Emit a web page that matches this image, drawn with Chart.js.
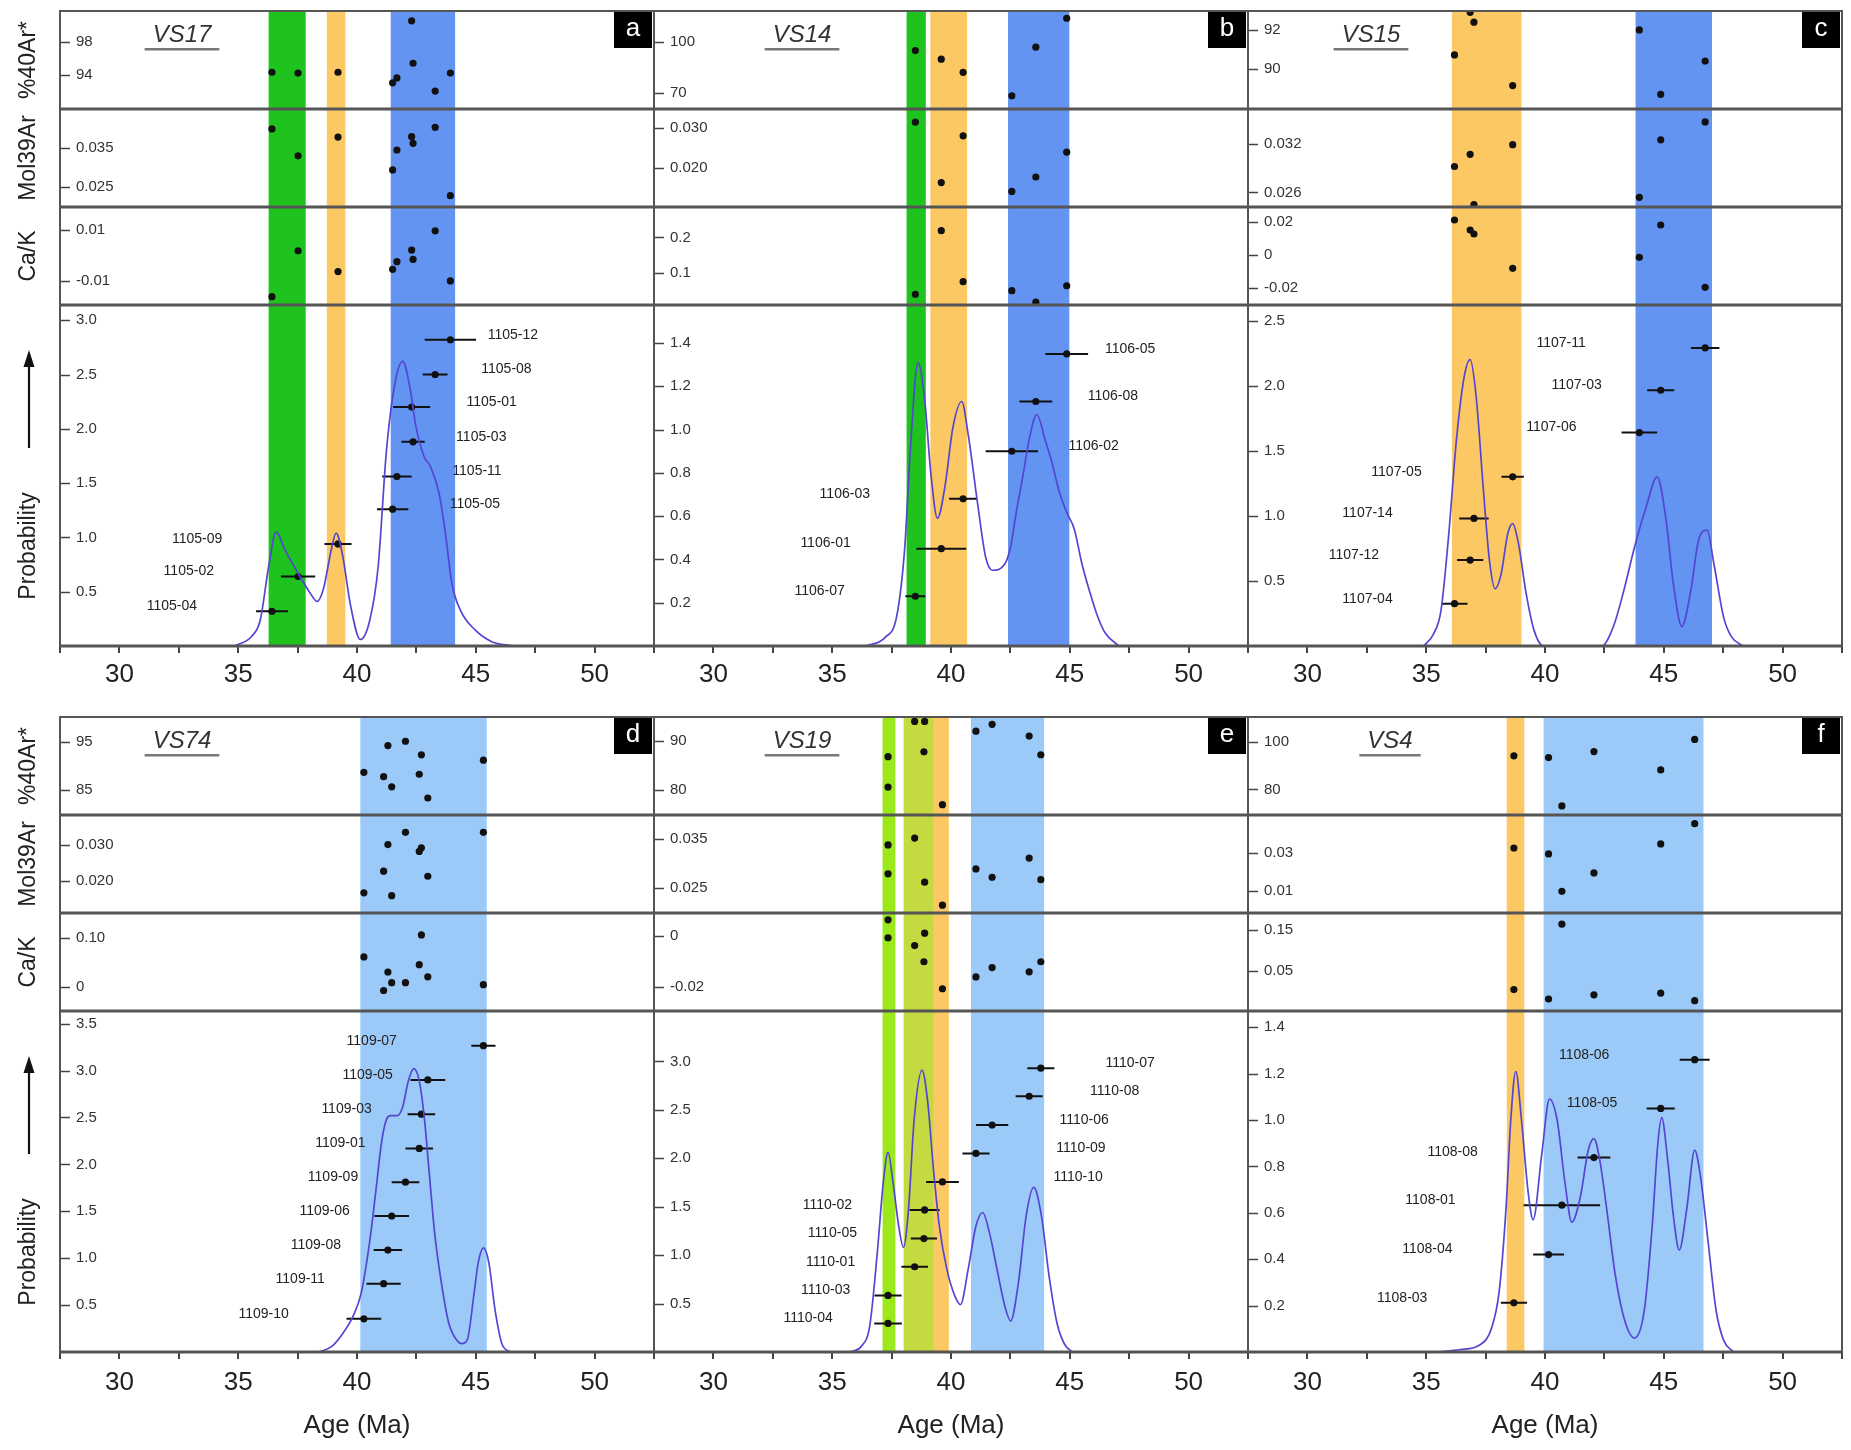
<!DOCTYPE html>
<html>
<head>
<meta charset="utf-8">
<script src="https://cdn.jsdelivr.net/npm/chart.js@4/dist/chart.umd.min.js"></script>
<style>
  html, body { margin: 0; padding: 0; background: #fff; }
  #wrap { position: relative; width: 1851px; height: 1450px; overflow: hidden; }
  #wrap canvas { position: absolute; }
</style>
</head>
<body>
<div id="wrap"></div>
<script>
// shared axis labels
const ageTicks = [30, 35, 40, 45, 50];
const subNames = ['%40Ar*', 'Mol39Ar', 'Ca/K', 'Probability'];

// ---- a : VS17 ----
const aIds = ['1105-12', '1105-08', '1105-01', '1105-03', '1105-11', '1105-05', '1105-09', '1105-02', '1105-04'];
const aAge = [43.93, 43.29, 42.30, 42.36, 41.68, 41.50, 39.20, 37.52, 36.42];
const aErr = [1.08, 0.52, 0.78, 0.49, 0.62, 0.66, 0.57, 0.72, 0.67];
const aStep = [2.82, 2.50, 2.20, 1.88, 1.56, 1.26, 0.94, 0.64, 0.32];
const aAr = [94.2, 92.0, 100.6, 95.4, 93.6, 93.0, 94.3, 94.2, 94.3];
const aMol = [0.0227, 0.0402, 0.0378, 0.0361, 0.0344, 0.0293, 0.0377, 0.0329, 0.0398];
const aCa = [-0.0101, 0.0097, 0.0021, -0.0016, -0.0025, -0.0055, -0.0064, 0.0018, -0.0163];
const aLabelX = [46.56, 46.29, 45.67, 45.23, 45.05, 44.96, 33.27, 32.92, 32.21];
const aCurveX = [34.86, 35.57, 35.93, 36.28, 36.60, 36.98, 37.52, 38.05, 38.32, 38.58, 38.94, 39.12, 39.38, 39.74, 40.14, 40.54, 40.89, 41.24, 41.60, 41.92, 42.22, 42.48, 42.83, 43.10, 43.46, 43.72, 43.99, 44.35, 44.96, 45.67, 46.56];
const aCurveY = [0.00, 0.09, 0.24, 0.73, 1.05, 0.88, 0.67, 0.48, 0.41, 0.52, 0.91, 1.04, 0.85, 0.36, 0.06, 0.24, 0.73, 1.80, 2.42, 2.62, 2.39, 2.02, 1.74, 1.65, 1.40, 1.04, 0.58, 0.33, 0.15, 0.04, 0.00];
const aBands = [[36.28, 37.84], [38.73, 39.51], [41.42, 44.13]];
const aBandKind = ['green', 'orange', 'blue'];
const aRanges = [[89.8, 101.8], [0.0198, 0.0449], [-0.0196, 0.0191], [0, 3.14]];
const aTicks = [['98', '94'], ['0.035', '0.025'], ['0.01', '-0.01'], ['3.0', '2.5', '2.0', '1.5', '1.0', '0.5']];

// ---- b : VS14 ----
const bIds = ['1106-05', '1106-08', '1106-02', '1106-03', '1106-01', '1106-07'];
const bAge = [44.87, 43.57, 42.56, 40.51, 39.59, 38.50];
const bErr = [0.90, 0.69, 1.10, 0.59, 1.05, 0.42];
const bStep = [1.35, 1.13, 0.90, 0.68, 0.45, 0.23];
const bAr = [113.6, 96.8, 68.6, 82.2, 89.8, 94.8];
const bMol = [0.0240, 0.0178, 0.0142, 0.0281, 0.0164, 0.0315];
const bCa = [0.063, 0.0165, 0.049, 0.0745, 0.219, 0.039];
const bLabelX = [47.54, 46.81, 46.00, 35.53, 34.72, 34.47];
const bCurveX = [36.42, 37.23, 37.72, 38.05, 38.29, 38.61, 38.89, 39.15, 39.43, 39.75, 40.08, 40.45, 40.72, 41.13, 41.46, 41.75, 42.27, 42.51, 42.75, 43.00, 43.32, 43.61, 43.97, 44.22, 44.54, 44.86, 45.19, 45.51, 45.84, 46.16, 46.49, 47.06];
const bCurveY = [0.00, 0.04, 0.14, 0.45, 0.91, 1.31, 1.14, 0.80, 0.59, 0.74, 1.01, 1.13, 0.98, 0.65, 0.41, 0.35, 0.38, 0.46, 0.62, 0.77, 0.97, 1.07, 0.95, 0.86, 0.72, 0.62, 0.54, 0.38, 0.25, 0.14, 0.06, 0.00];
const bBands = [[38.13, 38.94], [39.13, 40.68], [42.40, 44.98]];
const bBandKind = ['green', 'orange', 'blue'];
const bRanges = [[60.9, 117.8], [0.0103, 0.0348], [0.0085, 0.286], [0, 1.576]];
const bTicks = [['100', '70'], ['0.030', '0.020'], ['0.2', '0.1'], ['1.4', '1.2', '1.0', '0.8', '0.6', '0.4', '0.2']];

// ---- c : VS15 ----
const cIds = ['1107-11', '1107-03', '1107-06', '1107-05', '1107-14', '1107-12', '1107-04'];
const cAge = [46.74, 44.87, 43.97, 38.64, 37.01, 36.85, 36.19];
const cErr = [0.60, 0.57, 0.75, 0.47, 0.62, 0.55, 0.55];
const cStep = [2.29, 1.965, 1.64, 1.30, 0.98, 0.66, 0.325];
const cAr = [90.41, 88.7, 92.0, 89.15, 92.4, 92.9, 90.72];
const cMol = [0.0347, 0.0325, 0.0254, 0.0319, 0.0245, 0.0307, 0.0292];
const cCa = [-0.0194, 0.0180, -0.0014, -0.008, 0.0126, 0.0150, 0.021];
const cLabelX = [40.68, 41.33, 40.27, 33.75, 32.53, 31.96, 32.53];
const cCurveX = [34.89, 35.30, 35.62, 35.95, 36.27, 36.60, 36.85, 37.09, 37.42, 37.66, 37.90, 38.15, 38.43, 38.64, 38.88, 39.21, 39.54, 39.94, 42.39, 42.88, 43.28, 43.77, 44.26, 44.72, 45.08, 45.40, 45.76, 46.14, 46.46, 46.82, 47.11, 47.52, 47.85, 48.34];
const cCurveY = [0.00, 0.09, 0.27, 0.86, 1.58, 2.07, 2.20, 1.94, 1.17, 0.66, 0.44, 0.55, 0.86, 0.94, 0.79, 0.40, 0.12, 0.00, 0.00, 0.15, 0.40, 0.76, 1.07, 1.30, 0.99, 0.48, 0.15, 0.43, 0.81, 0.89, 0.63, 0.22, 0.07, 0.00];
const cBands = [[36.08, 39.01], [43.81, 47.03]];
const cBandKind = ['orange', 'blue'];
const cRanges = [[87.95, 92.97], [0.0242, 0.0363], [-0.030, 0.0288], [0, 2.62]];
const cTicks = [['92', '90'], ['0.032', '0.026'], ['0.02', '0', '-0.02'], ['2.5', '2.0', '1.5', '1.0', '0.5']];

// ---- d : VS74 ----
const dIds = ['1109-07', '1109-05', '1109-03', '1109-01', '1109-09', '1109-06', '1109-08', '1109-11', '1109-10'];
const dAge = [45.32, 42.98, 42.71, 42.62, 42.04, 41.46, 41.30, 41.12, 40.29];
const dErr = [0.51, 0.73, 0.58, 0.58, 0.58, 0.73, 0.60, 0.72, 0.73];
const dStep = [3.265, 2.90, 2.535, 2.17, 1.81, 1.45, 1.087, 0.728, 0.354];
const dAr = [91.2, 83.4, 92.3, 88.3, 95.1, 85.7, 94.2, 87.8, 88.7];
const dMol = [0.0336, 0.0214, 0.0293, 0.0283, 0.0336, 0.0160, 0.0302, 0.0228, 0.0168];
const dCa = [0.005, 0.021, 0.107, 0.046, 0.009, 0.009, 0.031, -0.007, 0.062];
const dLabelX = [40.62, 40.45, 39.56, 39.30, 38.99, 38.64, 38.27, 37.61, 36.07];
const dCurveX = [38.41, 38.94, 39.38, 39.83, 40.18, 40.53, 40.80, 41.03, 41.24, 41.42, 41.69, 41.92, 42.16, 42.39, 42.62, 42.84, 43.05, 43.28, 43.55, 43.86, 44.22, 44.40, 44.64, 44.93, 45.10, 45.32, 45.55, 45.81, 46.11, 46.47];
const dCurveY = [0.00, 0.06, 0.19, 0.38, 0.63, 1.17, 1.73, 2.23, 2.48, 2.52, 2.52, 2.61, 2.89, 3.02, 2.89, 2.48, 1.88, 1.24, 0.74, 0.31, 0.12, 0.09, 0.13, 0.63, 0.95, 1.11, 0.95, 0.45, 0.08, 0.00];
const dBands = [[40.14, 45.46]];
const dBandKind = ['light'];
const dRanges = [[79.9, 100.1], [0.0112, 0.0384], [-0.049, 0.152], [0, 3.635]];
const dTicks = [['95', '85'], ['0.030', '0.020'], ['0.10', '0'], ['3.5', '3.0', '2.5', '2.0', '1.5', '1.0', '0.5']];

// ---- e : VS19 ----
const eIds = ['1110-07', '1110-08', '1110-06', '1110-09', '1110-10', '1110-02', '1110-05', '1110-01', '1110-03', '1110-04'];
const eAge = [43.78, 43.29, 41.73, 41.05, 39.64, 38.89, 38.86, 38.47, 37.35, 37.35];
const eErr = [0.57, 0.57, 0.68, 0.57, 0.69, 0.63, 0.55, 0.56, 0.57, 0.58];
const eStep = [2.93, 2.64, 2.343, 2.05, 1.756, 1.467, 1.171, 0.88, 0.584, 0.295];
const eAr = [87.1, 90.9, 93.3, 91.9, 76.9, 93.9, 87.7, 93.9, 86.7, 80.5];
const eMol = [0.0267, 0.0311, 0.0272, 0.0289, 0.0215, 0.0262, null, 0.0352, 0.0338, 0.0279];
const eCa = [-0.0102, -0.0142, -0.0125, -0.0162, -0.0209, 0.0011, -0.0102, -0.0038, 0.0064, -0.0007];
const eLabelX = [47.54, 46.89, 45.60, 45.47, 45.35, 34.80, 35.01, 34.93, 34.72, 33.99];
const eCurveX = [35.77, 36.23, 36.58, 36.91, 37.15, 37.35, 37.56, 37.80, 38.00, 38.21, 38.45, 38.78, 39.02, 39.26, 39.51, 39.83, 40.16, 40.40, 40.72, 41.05, 41.33, 41.62, 41.94, 42.27, 42.51, 42.84, 43.16, 43.48, 43.81, 44.13, 44.46, 44.78, 45.11];
const eCurveY = [0.00, 0.06, 0.27, 1.06, 1.75, 2.06, 1.75, 1.30, 1.08, 1.47, 2.40, 2.91, 2.58, 1.89, 1.30, 0.85, 0.58, 0.49, 0.85, 1.30, 1.44, 1.23, 0.85, 0.47, 0.32, 0.72, 1.40, 1.70, 1.40, 0.78, 0.30, 0.08, 0.00];
const eBands = [[37.12, 37.66], [38.01, 39.91], [38.01, 39.26], [40.84, 43.92]];
const eBandKind = ['lime', 'orange', 'limeOver', 'light'];
const eRanges = [[74.8, 94.8], [0.0199, 0.0399], [-0.0297, 0.0091], [0, 3.52]];
const eTicks = [['90', '80'], ['0.035', '0.025'], ['0', '-0.02'], ['3.0', '2.5', '2.0', '1.5', '1.0', '0.5']];

// ---- f : VS4 ----
const fIds = ['1108-06', '1108-05', '1108-08', '1108-01', '1108-04', '1108-03'];
const fAge = [46.30, 44.87, 42.06, 40.71, 40.15, 38.69];
const fErr = [0.63, 0.59, 0.69, 1.61, 0.65, 0.55];
const fStep = [1.26, 1.05, 0.838, 0.633, 0.42, 0.212];
const fAr = [101.0, 88.2, 95.9, 73.1, 93.4, 94.1];
const fMol = [0.0453, 0.0347, 0.0196, 0.0100, 0.0295, 0.0326];
const fCa = [-0.021, -0.003, -0.007, 0.164, -0.017, 0.0057];
const fLabelX = [41.65, 41.98, 36.11, 35.18, 35.05, 33.99];
const fCurveX = [35.46, 36.44, 37.25, 37.74, 38.07, 38.36, 38.56, 38.77, 39.01, 39.29, 39.50, 39.86, 40.19, 40.51, 40.84, 41.13, 41.49, 41.82, 42.06, 42.30, 42.63, 42.96, 43.37, 43.77, 44.18, 44.51, 44.75, 44.91, 45.16, 45.40, 45.65, 45.97, 46.30, 46.54, 46.87, 47.20, 47.52, 47.93];
const fCurveY = [0.00, 0.01, 0.03, 0.10, 0.26, 0.62, 1.00, 1.21, 1.00, 0.69, 0.57, 0.85, 1.09, 1.00, 0.73, 0.56, 0.67, 0.87, 0.92, 0.83, 0.59, 0.33, 0.13, 0.06, 0.18, 0.54, 0.90, 1.01, 0.83, 0.59, 0.44, 0.62, 0.87, 0.76, 0.47, 0.18, 0.05, 0.00];
const fBands = [[38.39, 39.13], [39.94, 46.67]];
const fBandKind = ['orange', 'light'];
const fRanges = [[69.3, 110.4], [-0.0013, 0.0498], [-0.046, 0.191], [0, 1.47]];
const fTicks = [['100', '80'], ['0.03', '0.01'], ['0.15', '0.05'], ['1.4', '1.2', '1.0', '0.8', '0.6', '0.4', '0.2']];

// ---- layout / styles ----
const colLeft = [60, 654, 1248];
const colRight = [654, 1248, 1842];
const rowTop = [11, 717];
const plotH = 635;
const stackW = [98, 98, 98, 341];
const keys = ['ar', 'mol', 'ca', 'p'];
const bandColor = {
  green: '#1ec31e', orange: '#fcc864', blue: '#6394f2',
  light: '#9ccaf8', lime: '#9be81c', limeOver: 'rgba(160,228,40,0.6)'
};
const curveColor = '#5546d2';
const FONT = '"Liberation Sans", Arial, sans-serif';

Chart.defaults.font.family = FONT;
Chart.defaults.color = '#222';

const panels = [
  {letter: 'a', title: 'VS17', col: 0, row: 0, titleX: 122, ids: aIds, age: aAge, err: aErr, step: aStep, ar: aAr, mol: aMol, ca: aCa, labelX: aLabelX, curveX: aCurveX, curveY: aCurveY, bands: aBands, bandKind: aBandKind, ranges: aRanges, ticks: aTicks},
  {letter: 'b', title: 'VS14', col: 1, row: 0, titleX: 148, ids: bIds, age: bAge, err: bErr, step: bStep, ar: bAr, mol: bMol, ca: bCa, labelX: bLabelX, curveX: bCurveX, curveY: bCurveY, bands: bBands, bandKind: bBandKind, ranges: bRanges, ticks: bTicks},
  {letter: 'c', title: 'VS15', col: 2, row: 0, titleX: 123, ids: cIds, age: cAge, err: cErr, step: cStep, ar: cAr, mol: cMol, ca: cCa, labelX: cLabelX, curveX: cCurveX, curveY: cCurveY, bands: cBands, bandKind: cBandKind, ranges: cRanges, ticks: cTicks},
  {letter: 'd', title: 'VS74', col: 0, row: 1, titleX: 122, ids: dIds, age: dAge, err: dErr, step: dStep, ar: dAr, mol: dMol, ca: dCa, labelX: dLabelX, curveX: dCurveX, curveY: dCurveY, bands: dBands, bandKind: dBandKind, ranges: dRanges, ticks: dTicks},
  {letter: 'e', title: 'VS19', col: 1, row: 1, titleX: 148, ids: eIds, age: eAge, err: eErr, step: eStep, ar: eAr, mol: eMol, ca: eCa, labelX: eLabelX, curveX: eCurveX, curveY: eCurveY, bands: eBands, bandKind: eBandKind, ranges: eRanges, ticks: eTicks},
  {letter: 'f', title: 'VS4', col: 2, row: 1, titleX: 142, ids: fIds, age: fAge, err: fErr, step: fStep, ar: fAr, mol: fMol, ca: fCa, labelX: fLabelX, curveX: fCurveX, curveY: fCurveY, bands: fBands, bandKind: fBandKind, ranges: fRanges, ticks: fTicks}
];

function hline(ctx, x0, x1, y) {
  ctx.beginPath(); ctx.moveTo(x0, y); ctx.lineTo(x1, y); ctx.stroke();
}

function makePanel(p) {
  const left = p.col === 0 ? 0 : colLeft[p.col] - 4;
  const padLeft = colLeft[p.col] - left;
  const width = colRight[p.col] + 4 - left;
  const top = rowTop[p.row] - 4;
  const axisH = p.row === 0 ? 56 : 97;
  const height = 4 + plotH + axisH;

  const cv = document.createElement('canvas');
  cv.width = width; cv.height = height;
  cv.style.left = left + 'px'; cv.style.top = top + 'px';
  document.getElementById('wrap').appendChild(cv);

  const scales = {
    x: {
      type: 'linear', position: 'bottom', min: 27.5, max: 52.5,
      grid: {drawOnChartArea: false, drawTicks: true, tickLength: 7, color: '#444', lineWidth: 2},
      border: {display: false},
      ticks: {
        stepSize: 2.5, autoSkip: false, maxRotation: 0, padding: p.row === 0 ? 6 : 8,
        font: {size: 26}, color: '#222',
        callback: v => ageTicks.includes(v) ? String(v) : ''
      },
      title: {display: p.row === 1, text: 'Age (Ma)', font: {size: 26}, color: '#222', padding: {top: 0, bottom: 8}},
      afterFit: s => { s.height = axisH; s.paddingLeft = 0; s.paddingRight = 0; }
    }
  };
  keys.forEach((k, j) => {
    const labels = p.ticks[j];
    scales[k] = {
      type: 'linear', axis: 'y', position: 'left', stack: 'panel', stackWeight: stackW[j], weight: 4 - j,
      min: p.ranges[j][0], max: p.ranges[j][1],
      grid: {display: false, drawTicks: false}, border: {display: false},
      ticks: {mirror: true, padding: 16, autoSkip: false, font: {size: 15}, color: '#333', callback: (v, i) => labels[i]},
      afterBuildTicks: s => { s.ticks = labels.map(t => ({value: parseFloat(t)})); },
      afterFit: s => { s.width = 0; s.paddingTop = 0; s.paddingBottom = 0; }
    };
  });

  const datasets = [];
  datasets.push({
    data: p.curveX.map((x, i) => ({x: x, y: p.curveY[i]})), yAxisID: 'p',
    showLine: true, borderColor: curveColor, borderWidth: 1.7, pointRadius: 0,
    cubicInterpolationMode: 'monotone'
  });
  const bars = [];
  p.age.forEach((a, i) => {
    bars.push({x: a - p.err[i], y: p.step[i]}, {x: a + p.err[i], y: p.step[i]}, {x: a, y: null});
  });
  datasets.push({data: bars, yAxisID: 'p', showLine: true, spanGaps: false, borderColor: '#111', borderWidth: 2, pointRadius: 0});
  datasets.push({data: p.age.map((a, i) => ({x: a, y: p.step[i]})), yAxisID: 'p', pointRadius: 3.6, backgroundColor: '#111', borderWidth: 0});
  [p.ar, p.mol, p.ca].forEach((vals, j) => {
    datasets.push({data: p.age.map((a, i) => ({x: a, y: vals[i]})), yAxisID: keys[j], pointRadius: 3.6, backgroundColor: '#111', borderWidth: 0});
  });

  const deco = {
    id: 'deco',
    beforeDraw(chart) {
      const {ctx, chartArea: ca} = chart;
      const xs = chart.scales.x;
      ctx.save();
      p.bands.forEach((b, i) => {
        const x0 = xs.getPixelForValue(b[0]);
        const x1 = xs.getPixelForValue(b[1]);
        ctx.fillStyle = bandColor[p.bandKind[i]];
        ctx.fillRect(x0, ca.top, x1 - x0, ca.bottom - ca.top);
      });
      ctx.restore();
    },
    afterDatasetsDraw(chart) {
      const {ctx} = chart;
      const xs = chart.scales.x, ps = chart.scales.p;
      ctx.save();
      ctx.font = '14px ' + FONT;
      ctx.fillStyle = '#222';
      ctx.textAlign = 'center';
      ctx.textBaseline = 'middle';
      p.ids.forEach((id, i) => {
        ctx.fillText(id, xs.getPixelForValue(p.labelX[i]), ps.getPixelForValue(p.step[i]) - 5);
      });
      ctx.restore();
    },
    afterDraw(chart) {
      const {ctx, chartArea: ca} = chart;
      const sc = chart.scales;
      ctx.save();
      // inward tick marks
      ctx.strokeStyle = '#444'; ctx.lineWidth = 1.5;
      keys.forEach(k => {
        sc[k].ticks.forEach(t => {
          const y = Math.round(sc[k].getPixelForValue(t.value)) + 0.5;
          hline(ctx, ca.left, ca.left + 10, y);
        });
      });
      // dividers and frame
      ctx.strokeStyle = '#555'; ctx.lineWidth = 3;
      ['ar', 'mol', 'ca'].forEach(k => hline(ctx, ca.left, ca.right, sc[k].bottom));
      hline(ctx, ca.left, ca.right, ca.bottom);
      ctx.lineWidth = 2;
      ctx.strokeRect(ca.left, ca.top, ca.right - ca.left, ca.bottom - ca.top);
      // sample title
      const tx = ca.left + p.titleX, ty = ca.top + 24;
      ctx.font = 'italic 24px ' + FONT;
      ctx.fillStyle = '#333'; ctx.textAlign = 'center'; ctx.textBaseline = 'middle';
      ctx.fillText(p.title, tx, ty);
      const tw = ctx.measureText(p.title).width + 16;
      ctx.fillStyle = '#777';
      ctx.fillRect(tx - tw / 2, ty + 13, tw, 2.5);
      // panel letter
      ctx.fillStyle = '#000';
      ctx.fillRect(ca.right - 40, ca.top + 1, 38, 36);
      ctx.fillStyle = '#fff';
      ctx.font = '26px ' + FONT;
      ctx.fillText(p.letter, ca.right - 21, ca.top + 18);
      // left-hand axis titles
      if (p.col === 0) {
        const lx = ca.left - 31;
        ctx.fillStyle = '#222';
        ctx.font = '23px ' + FONT;
        keys.forEach((k, j) => {
          const s = sc[k];
          const cy = k === 'p' ? s.bottom - 100 : (s.top + s.bottom) / 2;
          ctx.save();
          ctx.translate(lx, cy);
          ctx.rotate(-Math.PI / 2);
          ctx.fillText(subNames[j], 0, 0);
          ctx.restore();
        });
        const ps = sc.p;
        const y0 = ps.bottom - 198, y1 = ps.bottom - 296;
        ctx.strokeStyle = '#111'; ctx.lineWidth = 2.2;
        ctx.beginPath(); ctx.moveTo(lx, y0); ctx.lineTo(lx, y1 + 12); ctx.stroke();
        ctx.fillStyle = '#111';
        ctx.beginPath(); ctx.moveTo(lx, y1); ctx.lineTo(lx - 5.5, y1 + 17); ctx.lineTo(lx + 5.5, y1 + 17); ctx.closePath(); ctx.fill();
      }
      ctx.restore();
    }
  };

  new Chart(cv, {
    type: 'scatter',
    data: {datasets: datasets},
    options: {
      responsive: false,
      animation: false,
      events: [],
      layout: {padding: {left: padLeft, right: 4, top: 4, bottom: 0}},
      plugins: {legend: {display: false}, tooltip: {enabled: false}},
      scales: scales
    },
    plugins: [deco]
  });
}

panels.forEach(makePanel);
</script>
</body>
</html>
